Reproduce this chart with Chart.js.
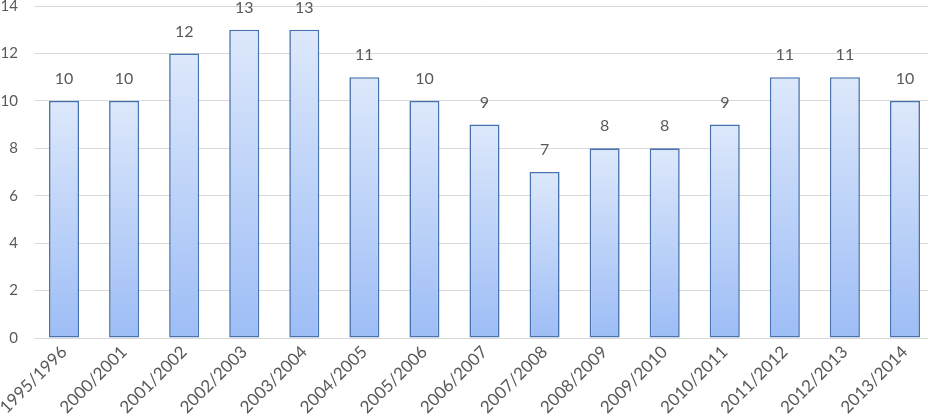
<!DOCTYPE html>
<html>
<head>
<meta charset="utf-8">
<script src="https://cdn.jsdelivr.net/npm/chart.js@4"></script>
<style>
  html, body { margin: 0; padding: 0; background: #fff; overflow: hidden; }
  #wrap { width: 935px; height: 417px; }
</style>
</head>
<body>
<div id="wrap"><canvas id="chart"></canvas></div>
<script>
const seasons = ['1995/1996', '2000/2001', '2001/2002', '2002/2003', '2003/2004', '2004/2005', '2005/2006',
    '2006/2007', '2007/2008', '2008/2009', '2009/2010', '2010/2011', '2011/2012', '2012/2013', '2013/2014'];
const counts = [10, 10, 12, 13, 13, 11, 10, 9, 7, 8, 8, 9, 11, 11, 10];
const yTicks = [0, 2, 4, 6, 8, 10, 12, 14];

const font = "Lato, 'Open Sans', sans-serif";

// gradient per bar, light on top
function barFill(ctx) {
    const chart = ctx.chart;
    const y = chart.scales.y;
    if (!y || ctx.raw === undefined) return '#c0d4f8';
    const top = y.getPixelForValue(ctx.raw);
    const bottom = y.getPixelForValue(0);
    if (!Number.isFinite(top) || !Number.isFinite(bottom) || top === bottom) return '#c0d4f8';
    const g = chart.ctx.createLinearGradient(0, top, 0, bottom);
    g.addColorStop(0, '#dde8fb');
    g.addColorStop(1, '#9dbdf6');
    return g;
}

const valueLabels = {
    id: 'valueLabels',
    afterDatasetsDraw(chart) {
        const c = chart.ctx;
        const meta = chart.getDatasetMeta(0);
        c.save();
        c.font = '16px ' + font;
        c.fillStyle = '#595959';
        c.textAlign = 'center';
        c.textBaseline = 'middle';
        meta.data.forEach((bar, i) => {
            c.fillText(counts[i], bar.x, bar.y - 22);
        });
        c.restore();
    }
};

new Chart(document.getElementById('chart').getContext('2d'), {
    type: 'bar',
    data: {
        labels: seasons,
        datasets: [{
            data: counts,
            backgroundColor: barFill,
            borderColor: '#4672b0',
            borderWidth: 1.6,
            borderSkipped: false,
            categoryPercentage: 1,
            barPercentage: 0.5
        }]
    },
    options: {
        responsive: true,
        maintainAspectRatio: false,
        animation: false,
        layout: { padding: { top: 6, right: 0, left: 0, bottom: 0 } },
        plugins: { legend: { display: false }, tooltip: { enabled: false } },
        scales: {
            x: {
                grid: { display: false, drawTicks: false },
                border: { display: false },
                ticks: {
                    color: '#595959',
                    font: { family: font, size: 17 },
                    minRotation: 45,
                    maxRotation: 45,
                    padding: 4,
                    autoSkip: false
                },
                afterFit(s) {
                    s.height = 79;
                    s.paddingLeft = 0;
                    s.paddingRight = 0;
                }
            },
            y: {
                min: 0,
                max: 14,
                afterBuildTicks(s) { s.ticks = yTicks.map(v => ({ value: v })); },
                grid: { color: '#d9d9d9', lineWidth: 1, drawTicks: false },
                border: { display: false },
                ticks: {
                    color: '#595959',
                    font: { family: font, size: 15 },
                    padding: 16
                },
                afterFit(s) {
                    s.width = 34;
                    s.paddingTop = 0;
                    s.paddingBottom = 0;
                }
            }
        }
    },
    plugins: [valueLabels]
});
</script>
</body>
</html>
